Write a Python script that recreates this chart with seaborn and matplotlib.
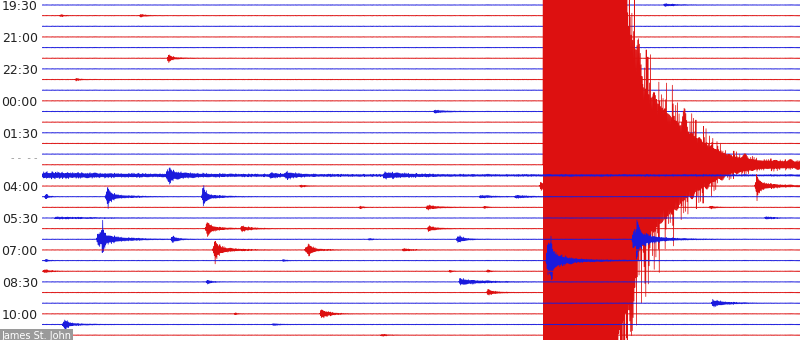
import numpy as np
import pandas as pd
import matplotlib
matplotlib.use("Agg")
import matplotlib.pyplot as plt
import seaborn as sns

# ---------------- data ----------------
n_traces = 32                      # one trace = 30 minutes
trace_colors = ["#1a1add", "#dd1010"]   # alternating blue / red

label_traces = [0, 3, 6, 9, 12, 14.3, 17, 20, 23, 26, 29]
label_texts = ["19:30", "21:00", "22:30", "00:00", "01:30", "- -  - -",
               "04:00", "05:30", "07:00", "08:30", "10:00"]

# events: trace index, onset (minutes into trace), peak amplitude (trace spacings), decay (minutes)
ev_trace = [0, 1, 1, 5, 5, 7, 10,
            16, 16, 16, 16, 16, 16, 16,
            17, 17, 17, 17,
            18, 18, 18, 18, 18, 18, 18,
            19, 19, 19, 19,
            20, 20,
            21, 21, 21, 21,
            22, 22, 22, 22, 22, 22, 22,
            23, 23, 23, 23, 23,
            24, 24, 24, 24, 24,
            25, 25, 25,
            26, 26,
            27, 28, 29, 29,
            30, 30, 30, 31]
ev_start = [24.6, 0.7, 3.85, 4.97, 4.95, 1.3, 15.5,
            0.0, 0.0, 4.9, 5.0, 9.0, 9.6, 13.5,
            10.2, 19.7, 28.25, 28.2,
            0.1, 2.55, 2.5, 6.35, 6.3, 17.3, 18.7,
            12.55, 15.2, 17.45, 26.4,
            0.5, 28.6,
            6.5, 6.45, 7.85, 15.25,
            2.35, 2.16, 5.1, 12.9, 16.4, 23.5, 23.35,
            6.8, 6.75, 10.5, 10.4, 14.25,
            0.1, 9.5, 20.1, 19.95, 20.0,
            0.05, 16.1, 17.6,
            6.5, 16.5,
            17.6, 26.5, 11.0, 7.6,
            0.85, 0.8, 9.1, 13.4]
ev_amp = [0.15, 0.12, 0.15, 0.5, 0.15, 0.12, 0.18,
          0.22, 0.13, 0.45, 0.95, 0.25, 0.3, 0.3,
          0.12, 0.55, 1.2, 0.5,
          0.3, 1.0, 0.45, 0.95, 0.4, 0.15, 0.15,
          0.15, 0.25, 0.12, 0.15,
          0.1, 0.15,
          0.7, 0.35, 0.3, 0.3,
          2.25, 0.85, 0.4, 0.12, 0.45, 2.0, 1.2,
          1.0, 0.5, 0.7, 0.35, 0.15,
          0.15, 0.12, 1.9, 1.5, 0.4,
          0.2, 0.12, 0.12,
          0.25, 0.35,
          0.3, 0.4, 0.55, 0.1,
          0.5, 0.25, 0.12, 0.12]
ev_decay = [0.4, 0.1, 0.2, 0.08, 0.4, 0.15, 0.4,
            3.0, 40.0, 0.7, 0.06, 0.3, 0.4, 0.9,
            0.2, 0.15, 0.1, 0.8,
            0.1, 0.08, 0.6, 0.08, 0.5, 0.5, 0.5,
            0.1, 0.4, 0.1, 0.2,
            1.5, 0.3,
            0.12, 0.5, 0.35, 0.3,
            0.04, 0.7, 0.2, 0.1, 0.25, 0.08, 0.7,
            0.1, 0.6, 0.1, 0.4, 0.3,
            0.1, 0.1, 0.06, 0.35, 1.2,
            0.2, 0.1, 0.1,
            0.15, 0.8,
            0.3, 0.5, 0.3, 0.1,
            0.1, 0.5, 0.2, 0.2]

# the large earthquake on the 03:00 trace: envelope (minutes, amplitude in trace spacings)
quake_trace = 15
quake_min = [19.83, 22.08, 22.87, 23.47, 23.66, 23.94, 24.46, 24.85, 25.52, 26.32, 26.83, 27.34, 28.41, 30.0]
quake_amp = [40.0, 40.0, 28.0, 20.0, 14.5, 12.0, 10.0, 8.3, 5.5, 3.3, 2.2, 1.3, 0.65, 0.45]

# ---------------- build the traces ----------------
n_samp = 1800
t = np.linspace(0, 30, n_samp)
idx = np.arange(n_samp)
sign = np.where(idx % 2 == 0, 1.0, -1.0)
q = (idx.astype(float) ** 2 * 0.6180339887) % 1.0
texture = 0.55 + 0.45 * q ** 3

rows = []
for k in range(n_traces):
    env = np.full(n_samp, 0.03)
    for tr, t0, a, tau in zip(ev_trace, ev_start, ev_amp, ev_decay):
        if tr != k:
            continue
        u = t - t0
        rise = np.clip(u / 0.05, 0, 1)
        env += a * rise * np.exp(-np.clip(u - 0.05, 0, None) / tau) * (u >= 0)
    if k == quake_trace:
        env += np.where(t >= quake_min[0], np.interp(t, quake_min, quake_amp), 0.0)
    y = -k + env * sign * texture
    rows.append(pd.DataFrame({"t": t, "y": y, "trace": f"T{k:02d}"}))
df = pd.concat(rows, ignore_index=True)

order = [f"T{k:02d}" for k in range(n_traces)]
palette = {f"T{k:02d}": trace_colors[k % 2] for k in range(n_traces)}

# ---------------- plot ----------------
sns.set_theme(style="white")
plt.rcParams["font.family"] = ["DejaVu Sans"]

fig = plt.figure(figsize=(8, 3.4), dpi=100)
a_pix, b_pix = 5.0, 10.65
ax = fig.add_axes([42 / 800, 0, 758 / 800, 1])
sns.lineplot(data=df, x="t", y="y", hue="trace", hue_order=order, palette=palette,
             estimator=None, sort=False, legend=False, linewidth=0.55, ax=ax)

ax.set_xlim(0, 30)
ax.set_ylim(-(340 - a_pix) / b_pix, a_pix / b_pix)
for s in ax.spines.values():
    s.set_visible(False)
ax.set_xticks([])
ax.set_xlabel("")
ax.set_ylabel("")
ax.set_yticks([-v for v in label_traces])
ax.set_yticklabels(label_texts)
ax.tick_params(axis="y", length=0, pad=3, labelsize=9, labelcolor="#222222")
for lbl in ax.get_yticklabels():
    if lbl.get_text().startswith("-"):
        lbl.set_color("#999999")
        lbl.set_fontsize(7)

fig.text(0.002, 0.004, "James St. John", fontsize=7, color="white",
         bbox=dict(facecolor="#9a9a9a", edgecolor="none", pad=1.0))

fig.savefig("out.png", dpi=100)
